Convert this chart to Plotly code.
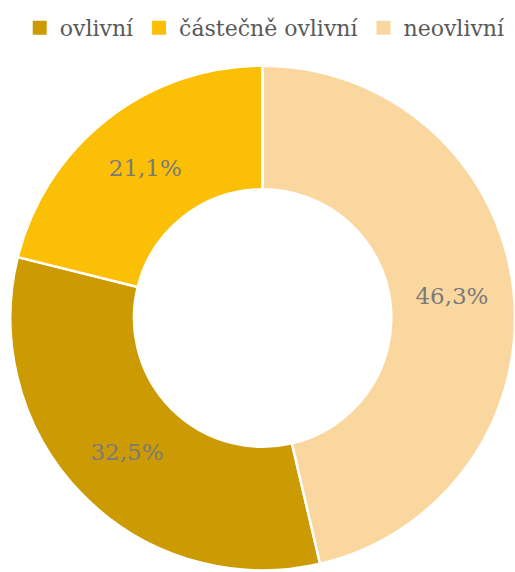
import plotly.graph_objects as go

# Response categories and their shares (%)
categories = ["ovlivní", "částečně ovlivní", "neovlivní"]
shares = [32.5, 21.1, 46.3]
colors = ["#CC9A02", "#FBBF05", "#FBD7A0"]

# first slice starts where the "neovlivní" wedge (drawn last, clockwise) ends
start_angle = shares[2] / sum(shares) * 360

fig = go.Figure()

fig.add_trace(
    go.Pie(
        labels=categories,
        values=shares,
        sort=False,
        direction="clockwise",
        rotation=start_angle,
        hole=0.51,
        marker=dict(colors=colors, line=dict(color="white", width=2.5)),
        texttemplate="%{value:.1f}%",
        textposition="inside",
        insidetextorientation="horizontal",
        textfont=dict(family="DejaVu Serif", size=23, color="#7A7A7A"),
        domain=dict(x=[0.02, 1.0], y=[0.0, 0.888]),
        hoverinfo="label+value",
        showlegend=False,
    )
)

# square legend keys, one per category
for name, col in zip(categories, colors):
    fig.add_trace(
        go.Scatter(
            x=[None], y=[None],
            mode="markers",
            name=name,
            marker=dict(symbol="square", size=14, color=col),
            showlegend=True,
            hoverinfo="skip",
        )
    )

fig.update_layout(
    width=515,
    height=572,
    margin=dict(l=0, r=0, t=0, b=0),
    paper_bgcolor="white",
    plot_bgcolor="white",
    separators=", ",
    xaxis=dict(visible=False),
    yaxis=dict(visible=False),
    legend=dict(
        orientation="h",
        x=0.515,
        xanchor="center",
        y=0.988,
        yanchor="top",
        font=dict(family="DejaVu Serif", size=22, color="#595959"),
        itemsizing="trace",
        traceorder="normal",
    ),
)

fig.write_html("out.html")
